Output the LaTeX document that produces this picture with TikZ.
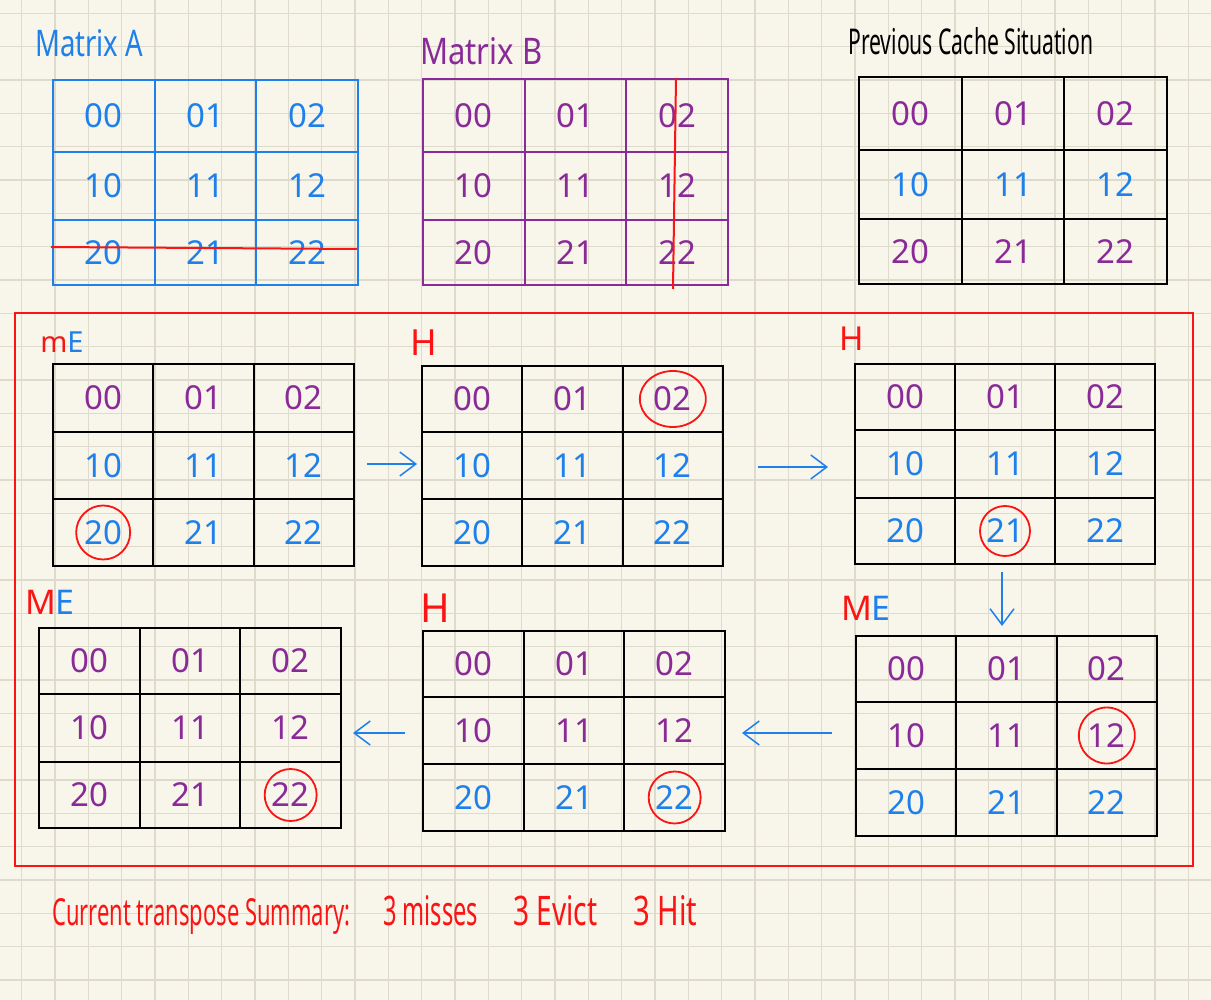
\documentclass[tikz,border=0pt]{standalone}
\usepackage{fontspec}
\setmainfont{Noto Sans}
\usepackage{graphicx}
\usetikzlibrary{arrows.meta}

\definecolor{paper}{RGB}{248,245,234}
\definecolor{paperrule}{RGB}{222,219,204}
\definecolor{penblue}{RGB}{30,128,235}
\definecolor{penpurple}{RGB}{138,42,152}
\definecolor{penred}{RGB}{250,20,20}

\tikzset{
  ruling/.style={draw=paperrule, line width=1.3pt},
  gridrule/.style={line width=2pt},
  gridframe/.style={draw, gridrule, rectangle, inner sep=0pt, outer sep=0pt},
  num/.style={font=\fontsize{33}{36}\selectfont, inner sep=0pt},
  lbl/.style={inner sep=0pt},
  title/.style={inner sep=0pt, anchor=base west},
  penarrow/.style={draw=penblue, line width=1.5pt, -{Straight Barb[length=16pt,width=24pt]}},
  ring/.style={draw=penred, line width=1.8pt},
  strike/.style={draw=penred, line width=2pt},
  bigframe/.style={draw=penred, line width=2.8pt},
}

\newcommand\fitto[3]{\resizebox{#1}{#2}{#3}}

% name, left, top, right, bottom, row line 1, row line 2, line colour
\newcommand\cachegrid[8]{%
  \pgfmathsetmacro\gxa{#2+(#4-#2)/3}%
  \pgfmathsetmacro\gxb{#2+2*(#4-#2)/3}%
  \pgfmathsetmacro\gwd{#4-#2}%
  \pgfmathsetmacro\ght{#5-#3}%
  \node[gridframe, draw=#8, minimum width=\gwd pt, minimum height=\ght pt] (#1) at ({(#2+#4)/2},{(#3+#5)/2}) {};
  \draw[gridrule, draw=#8] (\gxa,#3) -- (\gxa,#5) (\gxb,#3) -- (\gxb,#5) (#2,#6) -- (#4,#6) (#2,#7) -- (#4,#7);
  \pgfmathsetmacro\gca{(#2+\gxa)/2}%
  \pgfmathsetmacro\gcb{(\gxa+\gxb)/2}%
  \pgfmathsetmacro\gcc{(\gxb+#4)/2}%
  \pgfmathsetmacro\gra{(#3+#6)/2}%
  \pgfmathsetmacro\grb{(#6+#7)/2}%
  \pgfmathsetmacro\grc{(#7+#5)/2}%
  \foreach \r/\yy in {0/\gra,1/\grb,2/\grc}{%
    \foreach \c/\xx in {0/\gca,1/\gcb,2/\gcc}{%
      \coordinate (#1-c\r\c) at (\xx,\yy);
    }%
  }%
}
% name, colour of row 0, row 1, row 2
\newcommand\cellnums[4]{%
  \foreach \r/\rc in {0/#2,1/#3,2/#4}{%
    \foreach \c in {0,1,2}{%
      \node[num, text=\rc] (#1-n\r\c) at (#1-c\r\c) {\r\c};
    }%
  }%
}

\begin{document}
\begin{tikzpicture}[x=1pt,y=-1pt]
\useasboundingbox (0,0) rectangle (1211,1000);
\fill[paper] (0,0) rectangle (1211,1000);
\foreach \k in {0,...,35} \draw[ruling] ({21.67+33.333*\k},0) -- ({21.67+33.333*\k},1000);
\foreach \k in {0,...,29} \draw[ruling] (0,{13.33+33.333*\k}) -- (1211,{13.33+33.333*\k});

% ---- top row ----
\node[title, text=penblue] (tA) at (35,57) {\fitto{108pt}{27pt}{Matrix A}};
\node[title, text=penpurple] (tB) at (420,65) {\fitto{122pt}{27pt}{Matrix B}};
\node[title, text=black] (tP) at (848,55) {\fitto{245pt}{27pt}{Previous Cache Situation}};

\cachegrid{gA}{53}{80}{358}{285}{152}{220}{penblue}
\cellnums{gA}{penblue}{penblue}{penblue}
\draw[strike] (51,247) -- (357,249);

\cachegrid{gB}{423}{79}{728}{285}{152}{220}{penpurple}
\cellnums{gB}{penpurple}{penpurple}{penpurple}
\draw[strike] (676,78) -- (673,289);

\cachegrid{gP}{859}{77}{1167}{284}{150}{219}{black}
\cellnums{gP}{penpurple}{penblue}{penpurple}

% ---- transpose steps ----
\draw[bigframe] (15,313) rectangle (1193,866);

\node[lbl, font=\fontsize{29}{30}\selectfont] (l1) at (62,342) {\textcolor{penred}{m}\textcolor{penblue}{E}};
\node[lbl, text=penred, font=\fontsize{36}{38}\selectfont] (l2) at (424,343) {H};
\node[lbl, text=penred, font=\fontsize{33}{36}\selectfont] (l3) at (852,339) {H};
\node[lbl, font=\fontsize{34}{36}\selectfont] (l4) at (866,608) {\textcolor{penred}{M}\textcolor{penblue}{E}};
\node[lbl, text=penred, font=\fontsize{40}{42}\selectfont] (l5) at (435,608) {H};
\node[lbl, font=\fontsize{34}{36}\selectfont] (l6) at (50,602) {\textcolor{penred}{M}\textcolor{penblue}{E}};

\cachegrid{g1}{53}{364}{354}{566}{432}{499}{black}
\cellnums{g1}{penpurple}{penblue}{penblue}
\cachegrid{g2}{422}{366}{723}{566}{432}{499}{black}
\cellnums{g2}{penpurple}{penblue}{penblue}
\cachegrid{g3}{855}{364}{1155}{564}{430}{498}{black}
\cellnums{g3}{penpurple}{penblue}{penblue}
\cachegrid{g4}{856}{636}{1157}{836}{702}{769}{black}
\cellnums{g4}{penpurple}{penpurple}{penblue}
\cachegrid{g5}{423}{631}{725}{831}{697}{764}{black}
\cellnums{g5}{penpurple}{penpurple}{penblue}
\cachegrid{g6}{39}{628}{341}{828}{694}{762}{black}
\cellnums{g6}{penpurple}{penpurple}{penpurple}

\draw[ring] (g1-n20.center) circle[radius=27];
\draw[ring] (g2-n02.center) ellipse[x radius=33, y radius=28];
\draw[ring] (g3-n21.center) circle[radius=25];
\draw[ring] (g4-n12.center) circle[radius=28];
\draw[ring] (g5-n22.center) circle[radius=26];
\draw[ring] (g6-n22.center) circle[radius=26];

\coordinate (a1s) at (367,464); \coordinate (a1e) at (417,464);
\coordinate (a2s) at (758,467); \coordinate (a2e) at (828,467);
\coordinate (a3s) at (1002,572); \coordinate (a3e) at (1002,626);
\coordinate (a4s) at (832,733); \coordinate (a4e) at (742,733);
\coordinate (a5s) at (405,733); \coordinate (a5e) at (353,733);
\draw[penarrow] (a1s) -- (a1e);
\draw[penarrow] (a2s) -- (a2e);
\draw[penarrow] (a3s) -- (a3e);
\draw[penarrow] (a4s) -- (a4e);
\draw[penarrow] (a5s) -- (a5e);

% ---- summary ----
\node[title, text=penred] (s1) at (52,925) {\fitto{298pt}{27pt}{Current transpose Summary:}};
\node[title, text=penred] (s2) at (383,925) {\fitto{95pt}{30pt}{3 misses}};
\node[title, text=penred] (s3) at (513,925) {\fitto{84pt}{30pt}{3 Evict}};
\node[title, text=penred] (s4) at (633,925) {\fitto{64pt}{30pt}{3 Hit}};
\end{tikzpicture}
\end{document}
